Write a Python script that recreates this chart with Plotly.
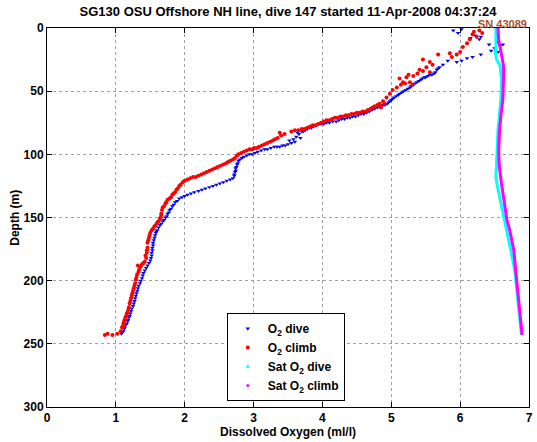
import plotly.graph_objects as go

# ---- data ----
o2_dive_x = [5.90, 5.97, 6.02, 6.15, 6.22, 6.28, 6.30, 6.42, 6.55, 6.58, 6.62, 6.50, 6.45, 6.55, 6.30,
             6.18, 6.10, 6.02, 5.95, 5.82, 5.75, 5.70, 5.66, 5.62, 5.56, 5.50, 5.45, 5.40, 5.34, 5.29,
             5.24, 5.18, 5.12, 5.07, 5.02, 4.98, 4.94, 4.88, 4.80, 4.72, 4.64, 4.56, 4.48, 4.40, 4.32,
             4.24, 4.15, 4.06, 3.98, 3.90, 3.84, 3.78, 3.72, 3.66, 3.62, 3.58, 3.68, 3.52, 3.60, 3.55,
             3.50, 3.42, 3.34, 3.25, 3.16, 3.06, 2.98, 2.90, 2.83, 2.78, 2.76, 2.74, 2.73, 2.72, 2.66,
             2.56, 2.46, 2.36, 2.25, 2.14, 2.04, 1.96, 1.89, 1.84, 1.80, 1.77, 1.74, 1.70, 1.66, 1.62,
             1.59, 1.57, 1.55, 1.54, 1.53, 1.52, 1.50, 1.46, 1.42, 1.39, 1.36, 1.33, 1.31, 1.29, 1.27,
             1.25, 1.22, 1.20, 1.18, 1.16, 1.13, 1.11, 1.08,
             1.09, 1.12, 1.14, 1.17, 1.19, 1.21, 1.23, 1.26, 1.28, 1.30, 1.32, 1.35, 1.38, 1.40, 1.44,
             1.48, 1.51, 1.52, 1.53, 1.54, 1.56, 1.58, 1.60, 1.64, 1.68, 1.72, 1.75, 1.78, 1.82, 1.86,
             1.92, 2.00, 2.09, 2.20, 2.30, 2.41, 2.51, 2.61, 2.70, 2.72, 2.74, 2.75, 2.77, 2.80, 2.86,
             2.94, 3.02, 3.11, 3.20, 3.30, 3.38, 3.46, 3.64, 3.70, 3.75, 3.81, 3.87, 3.94, 4.02, 4.10,
             4.20, 4.28, 4.36, 4.44, 4.52, 4.60, 4.68, 4.76, 4.84, 4.91, 4.96, 5.00, 5.04, 5.10, 5.15,
             5.21, 5.27, 5.32, 5.37, 5.43, 5.48, 5.53, 5.59, 5.64, 5.68]
o2_dive_depth = [2, 4, 1, 8, 6, 9, 7, 13, 11, 14, 13, 16, 18, 19, 21,
                 23, 24, 26, 27, 26, 29, 31, 33, 36, 37, 39, 40, 42, 44, 46,
                 48, 50, 52, 54, 56, 58, 60, 61, 63, 65, 67, 68, 70, 71, 72,
                 73, 74, 75, 76, 77, 79, 80, 82, 84, 86, 88, 87, 89, 90, 91,
                 92, 93, 94, 95, 96, 98, 100, 101, 103, 105, 108, 111, 114, 117, 120,
                 122, 124, 126, 128, 130, 132, 134, 137, 140, 143, 146, 149, 152, 155, 158,
                 161, 164, 168, 172, 176, 180, 184, 188, 192, 196, 200, 204, 208, 212, 216,
                 220, 224, 228, 231, 234, 237, 240, 242,
                 241, 238, 235, 232, 229, 226, 222, 218, 214, 210, 206, 202, 198, 194, 190,
                 186, 182, 178, 174, 170, 166, 162, 160, 156, 153, 150, 147, 144, 141, 138,
                 135, 133, 131, 129, 127, 125, 123, 121, 119, 116, 113, 110, 107, 104, 102,
                 100, 99, 97, 96, 94, 94, 93, 83, 82, 81, 79, 78, 76, 76, 75,
                 74, 72, 71, 70, 69, 68, 66, 64, 62, 61, 59, 57, 55, 53, 51,
                 49, 47, 45, 43, 41, 39, 38, 37, 35, 32]

o2_climb_x = [0.84, 0.88, 0.95, 1.02, 1.07, 1.09, 1.11, 1.13, 1.15, 1.17, 1.19, 1.20, 1.22, 1.24, 1.26,
              1.28, 1.29, 1.31, 1.34, 1.32, 1.38, 1.42, 1.44, 1.45, 1.46, 1.46, 1.48, 1.50, 1.54, 1.58,
              1.62, 1.65, 1.66, 1.67, 1.70, 1.73, 1.78, 1.82, 1.86, 1.90, 1.94, 2.00, 2.08, 2.16, 2.24,
              2.32, 2.40, 2.48, 2.56, 2.63, 2.70, 2.76, 2.82, 2.90, 2.98, 3.05, 3.12, 3.20, 3.28, 3.35,
              3.40, 3.38, 3.45, 3.55, 3.65, 3.74, 3.82, 3.90, 3.98, 4.06, 4.14, 4.22, 4.30, 4.38, 4.46,
              4.54, 4.62, 4.70, 4.76, 4.85, 4.83, 4.90, 4.88, 4.93, 4.98, 5.02, 5.08, 5.14, 5.20, 5.17,
              5.27, 5.31, 5.12, 5.22, 5.25, 5.32, 5.38, 5.41, 5.46, 5.56, 5.51, 5.46, 5.56, 5.60, 5.68,
              5.85, 5.88, 5.95, 6.00, 6.04, 6.10, 6.14, 6.18, 6.24, 6.20, 6.28, 6.32,
              1.10, 1.12, 1.14, 1.16, 1.18, 1.21, 1.23, 1.25, 1.27, 1.30, 1.33, 1.36, 1.40, 1.43, 1.45,
              1.47, 1.49, 1.52, 1.56, 1.60, 1.64, 1.66, 1.68, 1.72, 1.75, 1.80, 1.84, 1.88, 1.92, 1.97,
              2.04, 2.12, 2.20, 2.28, 2.36, 2.44, 2.52, 2.60, 2.66, 2.73, 2.78, 2.86, 2.94, 3.01, 3.08,
              3.16, 3.24, 3.31, 3.60, 3.70, 3.78, 3.86, 3.94, 4.02, 4.10, 4.18, 4.26, 4.34, 4.42, 4.50,
              4.58, 4.66, 4.73, 4.80]
o2_climb_depth = [243, 242, 243, 242, 240, 237, 234, 231, 228, 225, 221, 218, 214, 210, 206,
                  202, 199, 195, 191, 188, 187, 185, 182, 178, 174, 170, 166, 162, 159, 156,
                  153, 150, 147, 144, 141, 138, 135, 132, 130, 127, 124, 121, 119, 118, 116,
                  114, 112, 110, 108, 106, 104, 101, 99, 97, 96, 95, 93, 91, 89, 87,
                  85, 83, 84, 82, 81, 80, 78, 77, 75, 73, 72, 71, 70, 69, 68,
                  67, 66, 64, 62, 63, 60, 60, 58, 55, 52, 49, 47, 45, 44, 43,
                  43, 45, 40, 39, 37, 38, 36, 33, 34, 35, 31, 25, 27, 29, 21,
                  20, 23, 21, 19, 15, 12, 9, 5, 7, 3, 2, 4,
                  236, 232, 229, 226, 223, 216, 212, 208, 204, 197, 193, 189, 186, 180, 176,
                  168, 164, 160, 157, 154, 151, 148, 142, 139, 136, 134, 131, 128, 125, 122,
                  120, 118, 117, 115, 113, 111, 109, 107, 105, 103, 100, 98, 96, 95, 94,
                  92, 90, 88, 81, 80, 79, 77, 76, 74, 73, 71, 70, 69, 68, 67,
                  66, 65, 63, 61]

sat_dive_x = [6.52, 6.52, 6.53, 6.52, 6.51, 6.53, 6.58, 6.60, 6.60, 6.59, 6.57, 6.55, 6.54, 6.53,
              6.53, 6.52, 6.54, 6.58, 6.62, 6.66, 6.70, 6.74, 6.77, 6.80, 6.82, 6.84, 6.86, 6.88, 6.89]
sat_dive_depth = [0, 5, 10, 15, 20, 25, 30, 40, 50, 60, 70, 80, 90, 100,
                  110, 118, 125, 135, 145, 155, 165, 175, 185, 195, 205, 215, 225, 235, 243]

sat_climb_x = [6.55, 6.55, 6.56, 6.58, 6.60, 6.62, 6.63, 6.63, 6.63, 6.62, 6.59, 6.57, 6.56, 6.57,
               6.60, 6.63, 6.65, 6.68, 6.72, 6.75, 6.78, 6.80, 6.82, 6.84, 6.86, 6.88, 6.90]
sat_climb_depth = [0, 5, 10, 15, 20, 25, 30, 40, 50, 57, 70, 83, 99, 110,
                   123, 135, 144, 152, 160, 168, 176, 188, 200, 210, 221, 232, 243]

x_ticks = [0, 1, 2, 3, 4, 5, 6, 7]
y_ticks = [0, 50, 100, 150, 200, 250, 300]

FONT = "Liberation Sans, Arial, Helvetica, sans-serif"

fig = go.Figure()

fig.add_trace(go.Scatter(x=o2_dive_x, y=o2_dive_depth, mode="markers", name="O<sub>2</sub> dive",
                         marker=dict(symbol="triangle-down", size=4, color="#0000ff", line=dict(width=0))))
fig.add_trace(go.Scatter(x=o2_climb_x, y=o2_climb_depth, mode="markers", name="O<sub>2</sub> climb",
                         marker=dict(symbol="circle", size=4, color="#ff0000", line=dict(width=0))))
fig.add_trace(go.Scatter(x=sat_dive_x, y=sat_dive_depth, mode="lines", name="Sat O<sub>2</sub> dive",
                         line=dict(color="#00ffff", width=3), showlegend=False, legendgroup="sd"))
fig.add_trace(go.Scatter(x=sat_climb_x, y=sat_climb_depth, mode="lines", name="Sat O<sub>2</sub> climb",
                         line=dict(color="#ff00ff", width=3), showlegend=False, legendgroup="sc"))
# legend entries (dots) for the saturation curves
fig.add_trace(go.Scatter(x=[None], y=[None], mode="markers", name="Sat O<sub>2</sub> dive",
                         marker=dict(size=3, color="#00ffff"), legendgroup="sd"))
fig.add_trace(go.Scatter(x=[None], y=[None], mode="markers", name="Sat O<sub>2</sub> climb",
                         marker=dict(size=3, color="#ff00ff"), legendgroup="sc"))

axis_common = dict(
    showline=True, linecolor="black", linewidth=1, mirror="ticks",
    ticks="inside", ticklen=5, tickcolor="black",
    showgrid=True, gridcolor="#a0a0a0", griddash="dot", gridwidth=1,
    zeroline=False, automargin=False,
    tickfont=dict(family=FONT, size=12, color="black", weight="bold"),
)

fig.update_xaxes(range=[0, 7], tickvals=x_ticks, **axis_common)
fig.update_yaxes(range=[300, 0], tickvals=y_ticks, **axis_common)

fig.update_layout(
    width=537, height=442,
    margin=dict(l=47, r=8, t=28, b=35),
    paper_bgcolor="white", plot_bgcolor="white",
    title=dict(text="SG130 OSU Offshore NH line, dive 147 started 11-Apr-2008 04:37:24",
               x=0.5, xref="paper", xanchor="center", y=0.975, yanchor="middle",
               font=dict(family=FONT, size=13, color="black", weight="bold")),
    legend=dict(x=0.373, y=0.248, xanchor="left", yanchor="top",
                bgcolor="white", bordercolor="black", borderwidth=1,
                font=dict(family=FONT, size=12, color="black", weight="bold"),
                itemwidth=30, tracegroupgap=0),
    showlegend=True,
    annotations=[
        dict(text="SN 43089", xref="paper", yref="paper", x=1.0, y=1.0,
             xanchor="right", yanchor="bottom", showarrow=False, yshift=-4,
             font=dict(family=FONT, size=11, color="#a0522d", weight="bold")),
        dict(text="Dissolved Oxygen (ml/l)", xref="paper", yref="paper", x=0.5, y=-0.066,
             xanchor="center", yanchor="middle", showarrow=False,
             font=dict(family=FONT, size=12, color="black", weight="bold")),
        dict(text="Depth (m)", xref="paper", yref="paper", x=-0.068, y=0.5, textangle=-90,
             xanchor="center", yanchor="middle", showarrow=False,
             font=dict(family=FONT, size=12, color="black", weight="bold")),
    ],
)

fig.write_html("out.html", config={"displayModeBar": False},
               post_script="document.body.style.margin='0';")
